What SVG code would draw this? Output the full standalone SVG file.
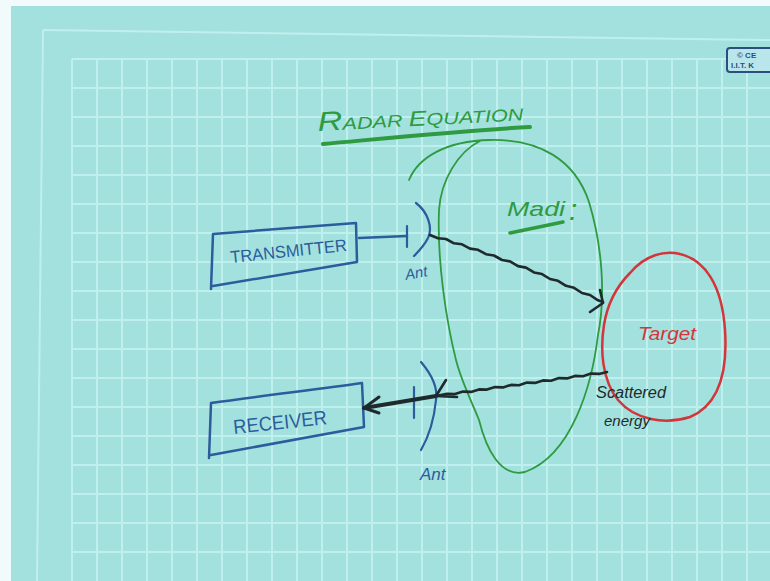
<svg xmlns="http://www.w3.org/2000/svg" width="770" height="581" viewBox="0 0 770 581">
<style>
.ink{fill:none;stroke-linecap:round;stroke-linejoin:round}
.blue{stroke:#2b5c9c}
.green{stroke:#2f9a40}
.red{stroke:#d2363a}
.black{stroke:#1e2a2b}
.grid line{stroke:#c0f0ee;stroke-width:2}
.hand{font-family:"Liberation Sans","DejaVu Sans",sans-serif;font-style:italic}
</style>
<rect x="0" y="0" width="770" height="581" fill="#f2fbfb"/>
<rect x="11" y="6" width="759" height="575" fill="#a3e1de"/>
<g id="frame" class="grid">
<line x1="43" y1="30" x2="770" y2="40"/>
<line x1="43" y1="30" x2="37" y2="581"/>
</g>
<g id="grid" class="grid">
<line x1="72" y1="59" x2="72" y2="581"/><line x1="97" y1="59" x2="97" y2="581"/><line x1="122" y1="59" x2="122" y2="581"/><line x1="147" y1="59" x2="147" y2="581"/><line x1="172" y1="59" x2="172" y2="581"/><line x1="197" y1="59" x2="197" y2="581"/><line x1="222" y1="59" x2="222" y2="581"/><line x1="247" y1="59" x2="247" y2="581"/><line x1="272" y1="59" x2="272" y2="581"/><line x1="297" y1="59" x2="297" y2="581"/><line x1="322" y1="59" x2="322" y2="581"/><line x1="347" y1="59" x2="347" y2="581"/><line x1="372" y1="59" x2="372" y2="581"/><line x1="397" y1="59" x2="397" y2="581"/><line x1="422" y1="59" x2="422" y2="581"/><line x1="447" y1="59" x2="447" y2="581"/><line x1="472" y1="59" x2="472" y2="581"/><line x1="497" y1="59" x2="497" y2="581"/><line x1="522" y1="59" x2="522" y2="581"/><line x1="547" y1="59" x2="547" y2="581"/><line x1="572" y1="59" x2="572" y2="581"/><line x1="597" y1="59" x2="597" y2="581"/><line x1="622" y1="59" x2="622" y2="581"/><line x1="647" y1="59" x2="647" y2="581"/><line x1="672" y1="59" x2="672" y2="581"/><line x1="697" y1="59" x2="697" y2="581"/><line x1="722" y1="59" x2="722" y2="581"/><line x1="747" y1="59" x2="747" y2="581"/>
<line x1="72" y1="59" x2="770" y2="59"/><line x1="72" y1="88" x2="770" y2="88"/><line x1="72" y1="117" x2="770" y2="117"/><line x1="72" y1="146" x2="770" y2="146"/><line x1="72" y1="175" x2="770" y2="175"/><line x1="72" y1="204" x2="770" y2="204"/><line x1="72" y1="233" x2="770" y2="233"/><line x1="72" y1="262" x2="770" y2="262"/><line x1="72" y1="291" x2="770" y2="291"/><line x1="72" y1="320" x2="770" y2="320"/><line x1="72" y1="349" x2="770" y2="349"/><line x1="72" y1="378" x2="770" y2="378"/><line x1="72" y1="407" x2="770" y2="407"/><line x1="72" y1="436" x2="770" y2="436"/><line x1="72" y1="465" x2="770" y2="465"/><line x1="72" y1="494" x2="770" y2="494"/><line x1="72" y1="523" x2="770" y2="523"/><line x1="72" y1="552" x2="770" y2="552"/>
</g>
<g id="logo">
<rect x="727" y="48" width="50" height="24" rx="3" fill="#b9e6ea" stroke="#2b4f7c" stroke-width="2"/>
<text x="737" y="58" font-family="Liberation Sans, sans-serif" font-size="8" font-weight="bold" fill="#2b4f7c">© CE</text>
<text x="731" y="68" font-family="Liberation Sans, sans-serif" font-size="8" font-weight="bold" fill="#2b4f7c">I.I.T. K</text>
</g>
<g id="title">
<text class="hand" x="318" y="131" fill="#2f9a40" font-size="17" transform="rotate(-3 318 131)" textLength="206" lengthAdjust="spacingAndGlyphs"><tspan font-size="27">R</tspan>ADAR  <tspan font-size="21">E</tspan>QUATION</text>
<path class="ink green" d="M323,144 C400,137 470,130 530,127" stroke-width="4"/>
</g>
<g id="medium">
<path class="ink green" stroke-width="1.8" d="M409,180 C418,158 445,141 490,140 C540,139 575,160 589,202 C602,245 606,295 598,335 C592,385 572,455 525,472 C500,478 486,448 479,420 C470,398 461,380 456,360 C446,320 437,260 439,210 C441,180 458,152 480,141"/>
<text class="hand" x="507" y="216" fill="#2f9a40" font-size="21" textLength="58" lengthAdjust="spacingAndGlyphs">Madi</text>
<text class="hand" x="569" y="220" fill="#2f9a40" font-size="30">:</text>
<path class="ink green" d="M510,233 L563,222" stroke-width="3.5"/>
</g>
<g id="target">
<path class="ink red" stroke-width="2.5" d="M630,273 C645,255 665,250 680,254 C705,260 722,285 725,330 C728,375 718,405 690,417 C665,425 635,420 618,400 C602,380 600,350 604,325 C608,300 618,285 630,273 Z"/>
<text class="hand" x="638" y="340" fill="#d2363a" font-size="18" textLength="58" lengthAdjust="spacingAndGlyphs">Target</text>
</g>
<g id="transmitter">
<path class="ink blue" stroke-width="2.5" d="M213,234 L356,223 L357,262 L213,286 M213,234 L211,289"/>
<text x="231" y="263" fill="#2b5c9c" font-family="Liberation Sans, sans-serif" font-size="17" transform="rotate(-6 231 263)" textLength="117" lengthAdjust="spacingAndGlyphs">TRANSMITTER</text>
</g>
<g id="tx-antenna">
<path class="ink blue" stroke-width="2.2" d="M407,226 L407,247 M416,203 C428,212 433,228 428,238 C424,246 420,250 414,256"/>
<text class="hand" x="406" y="280" fill="#2b5c9c" font-size="15" transform="rotate(-10 406 280)">Ant</text>
</g>
<g id="receiver">
<path class="ink blue" stroke-width="2.5" d="M211,403 C260,396 320,389 362,383 L364,427 L211,455 M211,403 L209,458"/>
<text x="234" y="434" fill="#2b5c9c" font-family="Liberation Sans, sans-serif" font-size="20" transform="rotate(-6 234 434)" textLength="94" lengthAdjust="spacingAndGlyphs">RECEIVER</text>
</g>
<g id="rx-antenna">
<path class="ink blue" stroke-width="2.2" d="M414,387 L414,418 M421,362 C432,375 438,388 436,400 C434,420 428,438 421,450"/>
<text class="hand" x="420" y="480" fill="#2b5c9c" font-size="17">Ant</text>
</g>
<g id="scattered-label">
<text class="hand" x="596" y="398" fill="#1e2a2b" font-size="16" textLength="70" lengthAdjust="spacingAndGlyphs">Scattered</text>
<text class="hand" x="604" y="426" fill="#1e2a2b" font-size="15" textLength="46" lengthAdjust="spacingAndGlyphs">energy</text>
</g>
<g id="connectors">
<path class="ink blue" stroke-width="2.5" d="M359,238 L407,236"/>
<path class="ink black" stroke-width="2.6" d="M430,235 L438,238.2 L446,239 L454,243.3 L462,244.3 L470,248.6 L478,249.8 L486,254.2 L494,255.5 L502,260 L510,261.4 L518,266.1 L526,267.6 L534,272.4 L542,274.1 L550,279 L558,280.8 L566,285.8 L574,287.8 L582,293 L590,295 L598,300.3 L603,302"/>
<path class="ink black" stroke-width="2.6" d="M590,312 L603,303 L600,290"/>
<path class="ink black" stroke-width="2.6" d="M607,372 L599,373.9 L591,373.6 L583,376.2 L575,375.9 L567,378.4 L559,378.1 L551,380.7 L543,380.4 L535,382.9 L527,382.6 L519,385.2 L511,384.9 L503,387.4 L495,387.1 L487,389.6 L479,389.4 L471,391.9 L463,391.6 L455,394.1 L447,393.9 L436,396"/>
<path class="ink black" stroke-width="2.6" d="M446,380 L436,396 L457,397"/>
<path class="ink black" stroke-width="4" d="M436,396 L364,408"/>
<path class="ink black" stroke-width="3" d="M379,397 L364,408 L379,413"/>
</g>
</svg>
